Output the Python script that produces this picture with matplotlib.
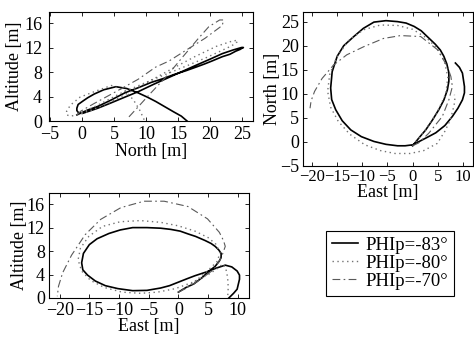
import matplotlib
matplotlib.use("Agg")
import matplotlib.pyplot as plt

plt.rcParams["font.family"] = ["Liberation Serif", "DejaVu Serif"]
plt.rcParams["font.size"] = 13

# Trajectories: east, north, altitude [m] for each pitch setting
east_83 = [0.0, 1.3, 2.6, 3.9, 5.2, 6.2, 6.9, 7.2, 7.2, 6.8, 6.2, 5.5, 4.5, 2.9, 1.7, 0.3,
           -1.3, -3.0, -5.3, -7.7, -9.8, -11.7, -13.7, -15.0, -16.0, -16.3, -16.1, -15.3,
           -14.0, -12.3, -10.2, -7.7, -5.3, -3.0, -1.5, 0.0, 1.5, 2.8, 4.6, 6.4, 7.9, 9.0,
           9.9, 10.3, 10.3, 9.9, 9.3, 8.5]
north_83 = [-0.8, 0.9, 2.5, 4.5, 6.7, 8.7, 10.8, 12.6, 14.4, 16.2, 17.8, 19.1, 20.3, 21.9,
            23.1, 24.0, 24.7, 25.0, 25.2, 24.9, 23.6, 21.9, 20.0, 17.8, 14.6, 11.2, 8.8, 6.7,
            4.4, 2.5, 1.1, 0.1, -0.5, -0.8, -0.8, -0.6, 0.2, 0.9, 1.9, 3.4, 5.3, 7.0,
            8.75, 10.2, 11.5, 14.3, 15.5, 16.4]
alt_83 = [1.0, 1.8, 2.4, 3.4, 4.6, 5.4, 6.3, 6.9, 7.6, 8.2, 8.8, 9.3, 9.8, 10.5, 10.9, 11.4,
          11.7, 11.9, 12.0, 12.0, 11.6, 11.0, 10.1, 9.1, 7.6, 6.0, 4.8, 3.9, 2.9, 2.1, 1.6,
          1.25, 1.3, 1.7, 2.1, 2.7, 3.3, 3.8, 4.4, 5.1, 5.6, 5.3, 4.6, 3.9, 3.2, 1.5, 0.8, 0.0]

east_80 = [0.0, 2.4, 4.8, 6.6, 7.0, 6.3, 5.0, 2.8, 0.0, -3.0, -6.4, -9.8, -12.8, -15.1, -16.5,
           -16.9, -16.3, -14.8, -12.5, -9.5, -6.4, -3.5, -0.5, 2.2, 4.9, 6.4, 7.5, 8.0, 8.3,
           8.4, 8.3]
north_80 = [-0.8, 2.3, 6.0, 10.0, 13.5, 16.8, 19.3, 21.6, 23.4, 24.2, 24.3, 23.3, 21.0, 17.6,
            14.0, 10.5, 7.2, 4.3, 1.6, -0.6, -1.8, -2.4, -2.4, -1.8, -0.3, 2.2, 4.6, 6.6, 8.0,
            9.0, 9.8]
alt_80 = [1.0, 2.5, 4.5, 6.3, 7.8, 9.2, 10.3, 11.4, 12.3, 12.9, 13.2, 13.0, 12.2, 10.5, 8.5,
          6.5, 4.6, 3.0, 1.8, 1.0, 0.8, 1.0, 1.6, 2.6, 3.9, 4.9, 5.8, 5.0, 3.5, 1.8, 0.0]

east_70 = [0.0, 1.2, 3.2, 5.9, 7.2, 7.9, 7.6, 6.9, 4.9, 1.6, -2.4, -5.8, -9.7, -13.1, -15.7,
           -18.0, -19.5, -20.2, -20.4]
north_70 = [-0.8, -0.2, 1.8, 5.3, 8.75, 11.5, 13.6, 15.7, 19.2, 21.9, 22.1, 21.5, 19.8, 18.1,
            16.0, 13.2, 10.5, 8.5, 7.0]
alt_70 = [1.0, 1.6, 2.8, 4.8, 6.8, 8.8, 9.8, 11.2, 13.5, 15.6, 16.5, 16.5, 15.4, 13.4, 10.8,
          7.3, 4.3, 2.0, 0.3]

labels = ["PHIp=-83°", "PHIp=-80°", "PHIp=-70°"]

series = [
    (east_83, north_83, alt_83, dict(color="black", lw=1.2, ls="-")),
    (east_80, north_80, alt_80, dict(color="0.45", lw=1.0, ls=(0, (1, 2.5)))),
    (east_70, north_70, alt_70, dict(color="0.35", lw=0.8, ls=(0, (7, 3, 1.5, 3)))),
]

fig = plt.figure(figsize=(4.74, 3.39), dpi=100)
W, H = 474, 339


def make_axes(x0, y0, x1, y1):
    ax = fig.add_axes([x0 / W, 1 - y1 / H, (x1 - x0) / W, (y1 - y0) / H])
    ax.tick_params(direction="in", top=True, right=True, length=3, width=0.6)
    ax.tick_params(axis="x", pad=3)
    ax.tick_params(axis="y", pad=3)
    for sp in ax.spines.values():
        sp.set_linewidth(0.8)
    return ax


ax1 = make_axes(49, 12, 253, 121)
ax2 = make_axes(303, 12, 473, 166)
ax3 = make_axes(49, 193, 249, 298)

handles = []
for e, n, a, st in series:
    h, = ax1.plot(n, a, **st)
    ax2.plot(e, n, **st)
    ax3.plot(e, a, **st)
    handles.append(h)

ax1.set_xlim(-5.15, 26.7)
ax1.set_ylim(0, 17.8)
ax1.set_xticks(range(-5, 26, 5))
ax1.set_yticks(range(0, 17, 4))
ax1.tick_params(axis="x", pad=3.5)
ax1.tick_params(axis="y", pad=5)
ax1.set_xlabel("North [m]", labelpad=0)
ax1.set_ylabel("Altitude [m]", labelpad=0.5)

ax2.set_xlim(-21.8, 12)
ax2.set_ylim(-5, 27)
ax2.set_xticks(range(-20, 11, 5))
ax2.set_yticks(range(-5, 26, 5))
ax2.tick_params(axis="x", labelsize=12, pad=2.5)
ax2.set_xlabel("East [m]", labelpad=-1)
ax2.set_ylabel("North [m]", labelpad=-1)

ax3.set_xlim(-21.8, 11.9)
ax3.set_ylim(0, 17.9)
ax3.set_xticks(range(-20, 11, 5))
ax3.set_yticks(range(0, 17, 4))
ax3.set_xlabel("East [m]", labelpad=-1)
ax3.set_ylabel("Altitude [m]", labelpad=-1)

leg = fig.legend(handles, labels, loc="upper left", bbox_to_anchor=(326 / W, 1 - 231 / H),
                 borderaxespad=0, fancybox=False, edgecolor="black", framealpha=1,
                 handlelength=1.4, borderpad=0.3, labelspacing=0.05, handletextpad=0.4,
                 fontsize=13.5)
leg.get_frame().set_linewidth(0.8)

fig.savefig("out.png", dpi=100)
